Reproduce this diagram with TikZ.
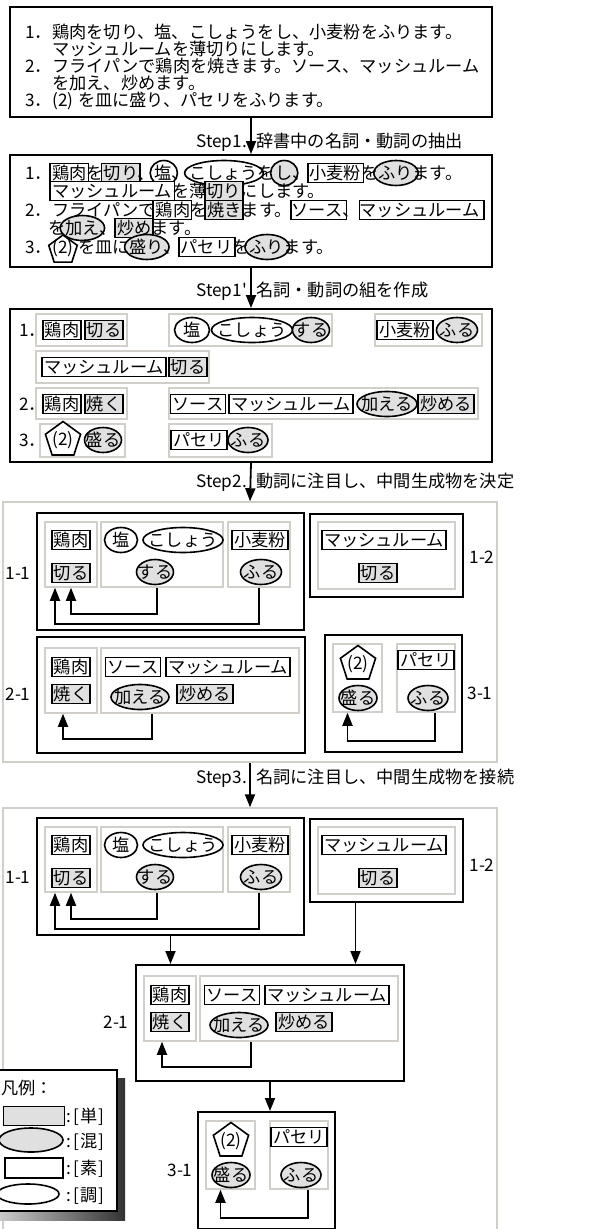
\documentclass[tikz,border=0pt]{standalone}
\usepackage{fontspec}
\setmainfont{Noto Sans CJK JP}[Ligatures=TeXOff]
\usetikzlibrary{shapes.geometric,arrows.meta,positioning}
\definecolor{lgray}{RGB}{224,224,224}
\definecolor{bgray}{RGB}{210,206,202}
\def\cw{17.2}
\tikzset{
  wd/.style={inner sep=0pt, text height=15pt, text depth=2pt},
  tan/.style={wd, draw, line width=1.6pt, fill=lgray, inner xsep=2pt, inner ysep=1pt},
  so/.style={tan, fill=white},
  kon/.style={ellipse, draw, line width=1.6pt, fill=lgray, text height=15pt, text depth=2pt, inner xsep=-40pt, inner ysep=-20pt, minimum height=25pt},
  cho/.style={kon, fill=white},
  penta/.style={regular polygon, regular polygon sides=5, draw, line width=1.6pt, fill=white, inner sep=0pt, minimum size=30pt},
  gbox/.style={draw=bgray, line width=1.5pt, inner sep=0pt},
  bbox/.style={draw, line width=2pt, inner sep=0pt},
  arr/.style={line width=1.8pt, -{Triangle[length=13pt,width=10pt]}},
}
% frames over the characters of a text line
\newcommand{\hlw}[6]{\node[#2, minimum width={#6*\cw+4}] (#1) at ({#3+(#5+#6/2)*\cw},#4) {};}
\newcommand{\hle}[6]{\node[#2, minimum width={#6*\cw+10}] (#1) at ({#3+(#5+#6/2)*\cw},#4) {};}
% panel 1-1 and 1-2
\newcommand{\panelone}[2]{%
\begin{scope}[shift={(0,#2)}]
\node[bbox, minimum width=267, minimum height=117] (#1p11) at (170.5,571.5) {};
\node[gbox, minimum width=52, minimum height=65] (#1A) at (71,554.5) {};
\node[gbox, minimum width=122, minimum height=65] (#1B) at (162,554.5) {};
\node[gbox, minimum width=62, minimum height=65] (#1C) at (259,554.5) {};
\node[so] (#1niku) at (71,540) {鶏肉};
\node[tan] (#1kiru) at (71,573) {切る};
\node[cho, minimum width=33] (#1shio) at (121,540) {塩};
\node[cho, minimum width=80] (#1kosho) at (183,540) {こしょう};
\node[kon, minimum width=37] (#1suru) at (155,572) {する};
\node[so] (#1komugi) at (260,540) {小麦粉};
\node[kon, minimum width=41] (#1furu) at (261,572) {ふる};
\draw[arr] ([xshift=-5]#1B.south) -- ++(0,26) -| (#1A.south);
\draw[arr] (#1C.south) -- ++(0,36) -| ([xshift=-16]#1A.south);
\node[bbox, minimum width=153, minimum height=83] (#1p12) at (386.5,555.5) {};
\node[gbox, minimum width=137, minimum height=67] (#1D) at (386.5,555.5) {};
\node[so] (#1mush) at (384,540) {マッシュルーム};
\node[tan] (#1kiru2) at (378,573) {切る};
\end{scope}}
% panel 2-1
\newcommand{\paneltwo}[3]{%
\begin{scope}[shift={(#2,#3)}]
\node[bbox, minimum width=268, minimum height=116] (#1p21) at (171,695) {};
\node[gbox, minimum width=52, minimum height=65] (#1E) at (71,680.5) {};
\node[gbox, minimum width=198, minimum height=65] (#1F) at (200,680.5) {};
\node[so] (#1niku2) at (71,667) {鶏肉};
\node[tan] (#1yaku) at (71,694) {焼く};
\node[so] (#1sauce) at (133,667) {ソース};
\node[so] (#1mush2) at (228,667) {マッシュルーム};
\node[kon, minimum width=58] (#1kuwa) at (140,697) {加える};
\node[tan] (#1ita) at (205,694) {炒める};
\draw[arr] ([xshift=-48]#1F.south) -- ++(0,25) -| ([xshift=-8]#1E.south);
\end{scope}}
% panel 3-1
\newcommand{\panelthree}[3]{%
\begin{scope}[shift={(#2,#3)}]
\node[bbox, minimum width=137, minimum height=117] (#1p31) at (393.5,693.5) {};
\node[gbox, minimum width=49, minimum height=68] (#1G) at (357.5,678) {};
\node[gbox, minimum width=58, minimum height=68] (#1H) at (426,678) {};
\node[penta] (#1two) at (358,664) {(2)};
\node[kon, minimum width=38] (#1moru) at (358,698) {盛る};
\node[so] (#1paseri) at (426,660) {パセリ};
\node[kon, minimum width=40] (#1furu2) at (428,698) {ふる};
\draw[arr] ([xshift=9]#1H.south) -- ++(0,28) -| ([xshift=-10]#1G.south);
\end{scope}}

\begin{document}
\begin{tikzpicture}[x=1pt, y=-1pt, font=\fontsize{17.2}{17.2}\selectfont]
\useasboundingbox (0,0) rectangle (601,1229);

% recipe
\node[bbox, minimum width=482, minimum height=110] (tbox) at (251,62) {};
\node[wd, anchor=west] (t1n) at (25,32) {1．};
\node[wd, anchor=west] (t1) at (52,32) {鶏肉を切り、塩、こしょうをし、小麦粉をふります。};
\node[wd, anchor=west] (t2) at (52,49) {マッシュルームを薄切りにします。};
\node[wd, anchor=west] (t3n) at (25,66) {2．};
\node[wd, anchor=west] (t3) at (52,66) {フライパンで鶏肉を焼きます。ソース、マッシュルーム};
\node[wd, anchor=west] (t4) at (52,83) {を加え、炒めます。};
\node[wd, anchor=west] (t5n) at (25,100) {3．};
\node[wd, anchor=west] (t5) at (48,100) {\makebox[30pt]{(2)}を皿に盛り、パセリをふります。};

% Step1
\node[bbox, minimum width=482, minimum height=112] (ebox) at (251,211) {};
\draw[arr] (tbox.south) -- (ebox.north);
\node[wd, anchor=east] (s1a) at (247,141) {Step1.};
\node[wd, anchor=west] (s1b) at (256,141) {辞書中の名詞・動詞の抽出};
\hlw{e1a}{so}{52}{173}{0}{2}
\hlw{e1b}{tan}{52}{173}{3}{2}
\hle{e1c}{cho}{52}{173}{6}{1}
\hle{e1d}{cho}{52}{173}{8}{4}
\hle{e1e}{kon}{52}{173}{13}{1}
\hlw{e1f}{so}{52}{173}{15}{3}
\hle{e1g}{kon}{52}{173}{19}{2}
\hlw{e2a}{so}{52}{191}{0}{7}
\hlw{e2b}{tan}{52}{191}{9}{2}
\hlw{e3a}{so}{52}{210}{6}{2}
\hlw{e3b}{tan}{52}{210}{9}{2}
\hlw{e3c}{so}{52}{210}{14}{3}
\hlw{e3d}{so}{52}{210}{18}{7}
\hle{e4a}{kon}{48}{228}{1}{2}
\hlw{e4b}{tan}{48}{228}{4}{2}
\hle{e5a}{kon}{78}{247}{3}{2}
\hlw{e5b}{so}{78}{247}{6}{3}
\hle{e5c}{kon}{78}{247}{10}{2}
\node[penta] (e5p) at (63,250) {};
\node[wd, anchor=west] (e1n) at (25,173) {1．};
\node[wd, anchor=west] (e1) at (52,173) {鶏肉を切り、塩、こしょうをし、小麦粉をふります。};
\node[wd, anchor=west] (e2) at (52,191) {マッシュルームを薄切りにします。};
\node[wd, anchor=west] (e3n) at (25,210) {2．};
\node[wd, anchor=west] (e3) at (52,210) {フライパンで鶏肉を焼きます。ソース、マッシュルーム};
\node[wd, anchor=west] (e4) at (48,228) {を加え、炒めます。};
\node[wd, anchor=west] (e5n) at (25,247) {3．};
\node[wd, anchor=west] (e5) at (48,247) {\makebox[30pt]{(2)}を皿に盛り、パセリをふります。};

% Step1'
\node[bbox, minimum width=482, minimum height=153] (pbox) at (251,385.5) {};
\draw[arr] (ebox.south) -- (pbox.north);
\node[wd, anchor=east] (s2a) at (247,290) {Step1'};
\node[wd, anchor=west] (s2b) at (256,290) {名詞・動詞の組を作成};
\node[gbox, minimum width=91, minimum height=32] (r1a) at (81.5,330) {};
\node[gbox, minimum width=163, minimum height=32] (r1b) at (250.5,330) {};
\node[gbox, minimum width=107, minimum height=32] (r1c) at (428.5,330) {};
\node[gbox, minimum width=173, minimum height=32] (r2a) at (122.5,367) {};
\node[gbox, minimum width=91, minimum height=31] (r3a) at (81.5,403.5) {};
\node[gbox, minimum width=309, minimum height=31] (r3b) at (323.5,403.5) {};
\node[gbox, minimum width=85, minimum height=33] (r4a) at (82.5,440.5) {};
\node[gbox, minimum width=103, minimum height=33] (r4b) at (220.5,440.5) {};
\node[wd, anchor=west] (p1n) at (19,330) {1．};
\node[so] (p1a) at (62,330) {鶏肉};
\node[tan] (p1b) at (104,330) {切る};
\node[cho, minimum width=35] (p1c) at (192,330) {塩};
\node[cho, minimum width=81] (p1d) at (252,330) {こしょう};
\node[kon, minimum width=37] (p1e) at (311,330) {する};
\node[so] (p1f) at (405,330) {小麦粉};
\node[kon, minimum width=41] (p1g) at (457,330) {ふる};
\node[so] (p2a) at (104,367) {マッシュルーム};
\node[tan] (p2b) at (188,367) {切る};
\node[wd, anchor=west] (p3n) at (19,404) {2．};
\node[so] (p3a) at (62,404) {鶏肉};
\node[tan] (p3b) at (104,404) {焼く};
\node[so] (p3c) at (198,404) {ソース};
\node[so] (p3d) at (291,404) {マッシュルーム};
\node[kon, minimum width=60] (p3e) at (387,404) {加える};
\node[tan] (p3f) at (446,404) {炒める};
\node[wd, anchor=west] (p4n) at (19,440) {3．};
\node[penta] (p4a) at (63,440) {(2)};
\node[kon, minimum width=37] (p4b) at (103,440) {盛る};
\node[so] (p4c) at (199,440) {パセリ};
\node[kon, minimum width=40] (p4d) at (248,440) {ふる};

% Step2
\node[gbox, minimum width=494, minimum height=260] (g1) at (250,632) {};
\draw[arr] (pbox.south) -- (g1.north);
\node[wd, anchor=east] (s3a) at (247,481) {Step2.};
\node[wd, anchor=west] (s3b) at (256,481) {動詞に注目し、中間生成物を決定};
\panelone{a}{0}
\paneltwo{a}{0}{0}
\panelthree{a}{0}{0}
\node[wd] (al11) at (18,573) {1-1};
\node[wd] (al12) at (482,557) {1-2};
\node[wd] (al21) at (18,694) {2-1};
\node[wd] (al31) at (480,693) {3-1};

% Step3
\node[gbox, minimum width=494, minimum height=432] (g2) at (250,1024) {};
\draw[arr] (g1.south) -- (g2.north);
\node[wd, anchor=east] (s4a) at (247,777) {Step3.};
\node[wd, anchor=west] (s4b) at (256,777) {名詞に注目し、中間生成物を接続};
\panelone{b}{305}
\paneltwo{b}{99}{328}
\panelthree{b}{-127}{477}
\draw[arr] (bp11.south) -- (bp11.south |- bp21.north);
\draw[arr] ([xshift=-31]bp12.south) -- ([xshift=-31]bp12.south |- bp21.north);
\draw[arr] (bp21.south) -- (bp21.south |- bp31.north);
\node[wd] (bl11) at (18,877) {1-1};
\node[wd] (bl12) at (482,865) {1-2};
\node[wd] (bl21) at (116,1022) {2-1};
\node[wd] (bl31) at (180,1170) {3-1};

% legend
\shade[left color=gray!40, right color=black!80] (-2,1078) rectangle (125,1220);
\node[bbox, line width=1.5pt, fill=white, minimum width=127, minimum height=141] (leg) at (53.5,1140.5) {};
\node[wd, anchor=west] (lgt) at (1,1088) {凡例：};
\node[tan, minimum width=61, minimum height=19] (lg1) at (34,1116) {};
\node[kon, minimum width=64, minimum height=24] (lg2) at (31,1140) {};
\node[so, minimum width=58, minimum height=20] (lg3) at (34,1168) {};
\node[cho, minimum width=62, minimum height=20] (lg4) at (28,1194) {};
\node[wd, anchor=west] (lt1) at (66,1116) {:\hspace{3pt}[\hspace{1pt}単\hspace{1pt}]};
\node[wd, anchor=west] (lt2) at (66,1141) {:\hspace{3pt}[\hspace{1pt}混\hspace{1pt}]};
\node[wd, anchor=west] (lt3) at (66,1168) {:\hspace{3pt}[\hspace{1pt}素\hspace{1pt}]};
\node[wd, anchor=west] (lt4) at (66,1195) {:\hspace{3pt}[\hspace{1pt}調\hspace{1pt}]};
\end{tikzpicture}
\end{document}
